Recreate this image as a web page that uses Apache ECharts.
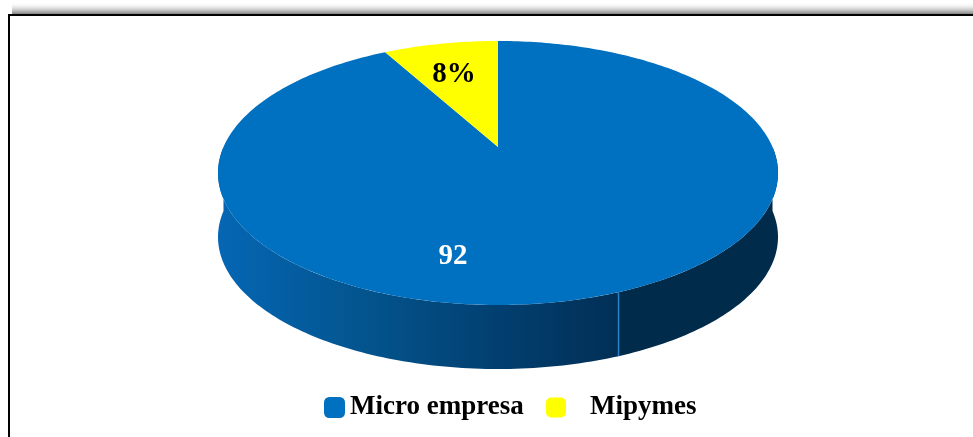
<!DOCTYPE html>
<html>
<head>
    <meta charset="utf-8">
    <script src="https://cdn.jsdelivr.net/npm/echarts@6/dist/echarts.min.js"></script>
    <style>body{margin:0;background:#fff;}</style>
</head>
<body>
    <div id="main" style="width:973px;height:437px"></div>
    <script type="text/javascript">
        // datos
        var categories = ['Micro empresa', 'Mipymes'];
        var values = [92, 8];
        var labels = ['92', '8%'];
        var colors = ['#0070C0', '#FFFF00'];
        var labelColors = ['#ffffff', '#000000'];

        // geometria del pastel 3D (estilo)
        var CX = 498, CY = 173, RX = 280, RY = 132, DEPTH = 64, TILT = 0.197;
        var SIDE_SPLIT = 159;
        var labelAnchor = [[-0.140, 0.740], [-0.181, -0.644]];

        var total = values.reduce(function (a, b) { return a + b; }, 0);
        var starts = [];
        var acc = 0;
        for (var i = 0; i < values.length; i++) {
            starts.push(acc / total * 360);
            acc += values[i];
        }

        function project(u, v, dy) {
            var den = 1 - TILT * v;
            return [CX + RX * u * Math.sqrt(1 - TILT * TILT) / den,
                    CY + RY * (v - TILT) / den + (dy || 0)];
        }
        function rim(deg, dy) {
            var t = deg * Math.PI / 180;
            return project(Math.sin(t), -Math.cos(t), dy);
        }
        function arcPts(a0, a1, dy) {
            var pts = [];
            var n = Math.max(2, Math.ceil(Math.abs(a1 - a0)));
            for (var k = 0; k <= n; k++) pts.push(rim(a0 + (a1 - a0) * k / n, dy));
            return pts;
        }
        function sidePoly(a0, a1) {
            return arcPts(a0, a1, 0).concat(arcPts(a1, a0, DEPTH));
        }

        function makeRender(idx) {
            return function (params, api) {
                var v = api.value(0);
                var a0 = starts[idx];
                var a1 = a0 + v / total * 360;
                var children = [];
                // pared lateral visible (mitad frontal)
                var s0 = Math.max(a0, 90), s1 = Math.min(a1, 270);
                if (s1 > s0) {
                    if (s1 > SIDE_SPLIT) {
                        children.push({
                            type: 'polygon',
                            shape: { points: sidePoly(Math.max(s0, SIDE_SPLIT), s1) },
                            style: {
                                fill: new echarts.graphic.LinearGradient(1, 0, 0, 0, [
                                    { offset: 0, color: '#012F56' },
                                    { offset: 0.3, color: '#023F70' },
                                    { offset: 0.65, color: '#03558F' },
                                    { offset: 1, color: '#0566B4' }
                                ])
                            }
                        });
                    }
                    if (s0 < SIDE_SPLIT) {
                        children.push({
                            type: 'polygon',
                            shape: { points: sidePoly(s0, Math.min(s1, SIDE_SPLIT)) },
                            style: { fill: '#002B4A' }
                        });
                    }
                    if (SIDE_SPLIT > s0 && SIDE_SPLIT < s1) {
                        var p0 = rim(SIDE_SPLIT, 0), p1 = rim(SIDE_SPLIT, DEPTH);
                        children.push({
                            type: 'line',
                            shape: { x1: p0[0], y1: p0[1], x2: p1[0], y2: p1[1] },
                            style: { stroke: '#2A82CC', lineWidth: 1.5 }
                        });
                    }
                }
                // cara superior
                var top = [project(0, 0)].concat(arcPts(a0, a1, 0));
                children.push({
                    type: 'polygon',
                    shape: { points: top },
                    style: { fill: colors[idx] }
                });
                var lp = project(labelAnchor[idx][0], labelAnchor[idx][1]);
                children.push({
                    type: 'text',
                    x: lp[0], y: lp[1],
                    style: {
                        text: labels[idx],
                        fill: labelColors[idx],
                        font: 'bold 29px "Liberation Serif"',
                        align: 'center',
                        verticalAlign: 'middle'
                    }
                });
                return { type: 'group', children: children };
            };
        }

        var myChart = echarts.init(document.getElementById('main'));

        var option = {
            animation: false,
            graphic: [{
                type: 'rect',
                shape: { x: 12, y: 2, width: 970, height: 13 },
                style: {
                    fill: new echarts.graphic.LinearGradient(0, 0, 0, 1, [
                        { offset: 0, color: 'rgba(255,255,255,0)' },
                        { offset: 1, color: 'rgba(100,100,100,0.95)' }
                    ])
                },
                z: 1
            }, {
                type: 'rect',
                shape: { x: 9, y: 15, width: 990, height: 450 },
                style: { fill: 'none', stroke: '#000', lineWidth: 2 },
                z: 2
            }],
            legend: [{
                data: [categories[0]],
                left: 319, top: 389,
                itemWidth: 21, itemHeight: 21,
                icon: 'roundRect',
                selectedMode: false,
                textStyle: { fontFamily: 'Liberation Serif', fontWeight: 'bold', fontSize: 27, color: '#000' }
            }, {
                data: [categories[1]],
                left: 541, top: 389,
                itemWidth: 20, itemHeight: 20,
                icon: 'roundRect',
                selectedMode: false,
                textStyle: { fontFamily: 'Liberation Serif', fontWeight: 'bold', fontSize: 27, color: '#000', padding: [0, 0, 0, 19] }
            }],
            series: categories.map(function (name, idx) {
                return {
                    name: name,
                    type: 'custom',
                    coordinateSystem: 'none',
                    itemStyle: { color: colors[idx] },
                    renderItem: makeRender(idx),
                    data: [[values[idx]]]
                };
            })
        };

        myChart.setOption(option);
    </script>
</body>
</html>
